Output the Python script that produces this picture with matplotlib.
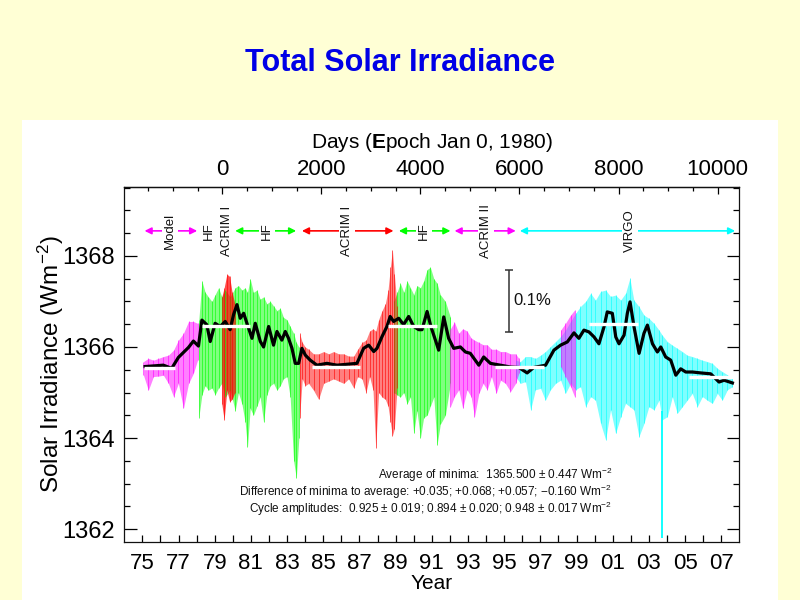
import numpy as np
import matplotlib
matplotlib.use("Agg")
import matplotlib.pyplot as plt
from matplotlib.patches import Rectangle
from matplotlib.ticker import MultipleLocator

plt.rcParams.update({
    "font.family": ["Liberation Sans", "DejaVu Sans"],
    "mathtext.fontset": "custom",
    "mathtext.rm": "Liberation Sans",
    "mathtext.bf": "Liberation Sans:bold",
    "mathtext.it": "Liberation Sans:italic",
})

MAGENTA, GREEN, RED, CYAN = "#ff00ff", "#00ff00", "#ff0000", "#00ffff"
INK = "#111111"

# ---- daily data envelopes (year, upper, lower) per instrument -------------
MODEL_YEAR = [1975.56, 1975.83, 1976.11, 1976.39, 1976.66, 1976.94, 1977.22, 1977.49,
              1977.77, 1978.05, 1978.32, 1978.55]
MODEL_HI = [1365.68, 1365.75, 1365.71, 1365.75, 1365.79, 1365.82, 1365.93, 1366.15,
            1366.30, 1366.56, 1366.56, 1366.52]
MODEL_LO = [1365.38, 1365.05, 1365.35, 1365.36, 1365.38, 1365.20, 1364.91, 1365.20,
            1364.65, 1365.20, 1365.42, 1365.71]

HF1_YEAR = [1978.62, 1978.79, 1978.97, 1979.15, 1979.34, 1979.52, 1979.71, 1979.89,
            1980.08, 1980.35, 1980.63, 1980.81, 1981.00, 1981.18, 1981.31, 1981.46,
            1981.64, 1981.83, 1982.01, 1982.20, 1982.38, 1982.57, 1982.75, 1982.94,
            1983.12, 1983.30, 1983.49, 1983.67, 1983.86, 1984.01, 1984.15]
HF1_HI = [1366.60, 1367.45, 1367.20, 1367.10, 1367.00, 1367.15, 1367.30, 1367.10,
          1367.25, 1367.10, 1367.30, 1367.35, 1367.25, 1367.30, 1367.20, 1367.50,
          1367.20, 1367.25, 1367.05, 1367.10, 1366.95, 1367.00, 1366.90, 1366.80,
          1366.85, 1366.65, 1366.60, 1366.45, 1366.30, 1366.10, 1366.00]
HF1_LO = [1364.45, 1364.95, 1365.15, 1365.05, 1365.10, 1364.95, 1365.10, 1365.20,
          1364.90, 1365.05, 1364.60, 1365.00, 1364.75, 1364.35, 1363.80, 1364.65,
          1364.50, 1364.70, 1364.90, 1364.35, 1364.95, 1365.15, 1365.20, 1365.05,
          1365.15, 1365.30, 1365.35, 1364.90, 1363.50, 1363.12, 1364.00]

ACRIM1A_YEAR = [1979.89, 1980.02, 1980.17, 1980.32, 1980.46, 1980.61]
ACRIM1A_HI = [1367.10, 1367.30, 1367.60, 1367.55, 1367.20, 1366.95]
ACRIM1A_LO = [1364.75, 1364.40, 1365.05, 1364.80, 1364.85, 1365.00]

ACRIM1B_YEAR = [1984.19, 1984.34, 1984.50, 1984.69, 1984.96, 1985.24, 1985.52, 1985.80,
                1986.07, 1986.35, 1986.63, 1986.90, 1987.18, 1987.40, 1987.64, 1987.86,
                1988.06, 1988.25, 1988.40, 1988.56, 1988.75, 1988.93, 1989.08, 1989.21,
                1989.32, 1989.43, 1989.58]
ACRIM1B_HI = [1366.30, 1366.10, 1366.00, 1365.95, 1365.85, 1365.85, 1365.90, 1365.85,
              1365.90, 1365.85, 1365.85, 1365.80, 1365.80, 1365.95, 1366.10, 1366.15,
              1366.35, 1366.40, 1366.35, 1366.60, 1366.80, 1366.95, 1367.25, 1367.75,
              1368.13, 1367.60, 1366.90]
ACRIM1B_LO = [1364.45, 1365.30, 1365.15, 1365.20, 1365.05, 1364.85, 1365.20, 1365.25,
              1365.30, 1365.25, 1365.20, 1365.30, 1365.10, 1365.35, 1365.30, 1365.00,
              1365.35, 1365.05, 1363.78, 1365.00, 1364.90, 1364.85, 1364.70, 1364.35,
              1364.05, 1364.20, 1365.10]

HF2_YEAR = [1989.39, 1989.58, 1989.76, 1989.95, 1990.13, 1990.32, 1990.50, 1990.68,
            1990.87, 1991.05, 1991.24, 1991.42, 1991.61, 1991.79, 1991.97, 1992.25,
            1992.53]
HF2_HI = [1367.00, 1367.20, 1367.40, 1367.20, 1367.45, 1367.30, 1367.15, 1367.35,
          1367.30, 1367.45, 1367.70, 1367.75, 1367.50, 1367.40, 1367.15, 1367.00,
          1366.65]
HF2_LO = [1365.00, 1364.95, 1364.90, 1365.00, 1364.75, 1364.90, 1364.10, 1364.60,
          1364.00, 1364.45, 1364.50, 1364.70, 1364.90, 1363.85, 1364.30, 1364.50,
          1365.20]

ACRIM2_YEAR = [1992.53, 1992.75, 1992.99, 1993.21, 1993.45, 1993.67, 1993.86, 1994.10,
               1994.34, 1994.56, 1994.80, 1995.06, 1995.30, 1995.57, 1995.85, 1996.13,
               1996.31]
ACRIM2_HI = [1366.40, 1366.55, 1366.30, 1366.40, 1366.35, 1366.20, 1366.15, 1366.10,
             1366.05, 1366.05, 1365.95, 1365.95, 1365.90, 1365.90, 1365.85, 1365.85,
             1365.75]
ACRIM2_LO = [1364.69, 1364.91, 1365.06, 1364.65, 1365.06, 1364.91, 1364.47, 1364.98,
             1365.20, 1365.06, 1365.35, 1364.98, 1365.27, 1365.20, 1365.02, 1365.20,
             1365.42]

ACRIM2B_YEAR = [1998.62, 1998.89, 1999.17, 1999.39]
ACRIM2B_HI = [1366.37, 1366.52, 1366.70, 1366.81]
ACRIM2B_LO = [1365.57, 1365.35, 1365.13, 1364.91]

VIRGO_YEAR = [1996.13, 1996.40, 1996.68, 1996.96, 1997.23, 1997.51, 1997.78, 1998.06,
              1998.34, 1998.62, 1998.89, 1999.17, 1999.45, 1999.72, 2000.00, 2000.28,
              2000.55, 2000.83, 2001.11, 2001.38, 2001.66, 2001.94, 2002.21, 2002.45,
              2002.67, 2002.95, 2003.23, 2003.50, 2003.78, 2004.06, 2004.24, 2004.52,
              2004.80, 2005.07, 2005.35, 2005.62, 2005.90, 2006.18, 2006.46, 2006.73,
              2007.01, 2007.29, 2007.56, 2007.84, 2008.12]
VIRGO_HI = [1365.71, 1365.68, 1365.79, 1365.79, 1365.75, 1365.82, 1365.90, 1366.01,
            1366.12, 1366.23, 1366.37, 1366.56, 1366.74, 1366.89, 1367.00, 1367.18,
            1367.03, 1367.22, 1367.25, 1367.11, 1367.14, 1367.03, 1367.18, 1367.51,
            1367.03, 1366.89, 1366.70, 1366.63, 1366.52, 1366.37, 1366.26, 1366.12,
            1366.04, 1365.97, 1365.90, 1365.82, 1365.79, 1365.75, 1365.71, 1365.68,
            1365.64, 1365.53, 1365.46, 1365.39, 1365.31]
VIRGO_LO = [1365.35, 1365.20, 1365.24, 1364.62, 1365.06, 1365.09, 1364.83, 1365.06,
            1365.20, 1365.27, 1364.98, 1365.20, 1365.06, 1365.13, 1364.69, 1364.91,
            1364.83, 1364.32, 1363.96, 1364.62, 1364.10, 1364.47, 1364.76, 1364.69,
            1364.62, 1364.03, 1364.32, 1364.69, 1364.62, 1364.83, 1364.40, 1364.47,
            1364.91, 1364.54, 1364.69, 1364.83, 1364.98, 1364.69, 1364.91, 1364.83,
            1364.76, 1364.98, 1364.83, 1365.06, 1365.13]

# isolated deep dip (Oct 2003 sunspot group)
DIP_YEAR = [2004.24, 2004.24]
DIP_TSI = [1364.60, 1361.80]

# ---- 81-day running mean ---------------------------------------------------
SMOOTH_YEAR = [1975.65, 1976.66, 1977.12, 1977.49, 1977.77, 1978.05, 1978.32, 1978.60,
               1978.79, 1979.06, 1979.25, 1979.52, 1979.80, 1980.08, 1980.35, 1980.54,
               1980.73, 1980.91, 1981.10, 1981.28, 1981.56, 1981.74, 1982.02, 1982.20,
               1982.48, 1982.75, 1982.94, 1983.21, 1983.40, 1983.58, 1983.77, 1983.95,
               1984.14, 1984.32, 1984.51, 1984.78, 1985.15, 1985.70, 1986.26, 1986.81,
               1987.36, 1987.73, 1988.01, 1988.29, 1988.47, 1988.75, 1989.02, 1989.20,
               1989.39, 1989.67, 1989.94, 1990.22, 1990.50, 1990.78, 1990.96, 1991.24,
               1991.45, 1991.70, 1991.88, 1992.16, 1992.43, 1992.71, 1993.08, 1993.36,
               1993.63, 1994.10, 1994.37, 1994.74, 1995.29, 1995.85, 1996.31, 1996.77,
               1997.14, 1997.79, 1998.25, 1998.62, 1998.99, 1999.36, 1999.63, 1999.91,
               2000.19, 2000.47, 2000.74, 2001.02, 2001.20, 2001.48, 2001.67, 2001.85,
               2002.13, 2002.31, 2002.46, 2002.68, 2002.96, 2003.23, 2003.42, 2003.70,
               2003.97, 2004.16, 2004.43, 2004.71, 2004.99, 2005.26, 2005.54, 2005.91,
               2006.37, 2006.92, 2007.38, 2007.66, 2008.12]
SMOOTH_TSI = [1365.57, 1365.60, 1365.53, 1365.77, 1365.88, 1365.99, 1366.13, 1366.02,
              1366.59, 1366.49, 1366.12, 1366.52, 1366.45, 1366.56, 1366.38, 1366.71,
              1366.93, 1366.63, 1366.74, 1366.52, 1366.19, 1366.52, 1366.12, 1366.00,
              1366.45, 1366.04, 1366.34, 1366.15, 1366.34, 1366.19, 1365.97, 1365.64,
              1365.64, 1365.97, 1365.82, 1365.71, 1365.60, 1365.64, 1365.60, 1365.62,
              1365.64, 1365.97, 1366.04, 1365.90, 1365.97, 1366.23, 1366.45, 1366.67,
              1366.56, 1366.63, 1366.49, 1366.67, 1366.45, 1366.38, 1366.38, 1366.78,
              1366.45, 1366.15, 1365.93, 1366.66, 1366.19, 1365.97, 1366.00, 1365.89,
              1365.86, 1365.60, 1365.78, 1365.64, 1365.60, 1365.56, 1365.55, 1365.43,
              1365.55, 1365.60, 1365.93, 1366.04, 1366.11, 1366.31, 1366.19, 1366.37,
              1366.33, 1366.22, 1366.07, 1366.44, 1366.77, 1366.74, 1366.22, 1366.07,
              1366.26, 1366.74, 1366.99, 1366.44, 1365.86, 1366.30, 1366.48, 1366.07,
              1365.89, 1366.00, 1365.78, 1365.71, 1365.38, 1365.52, 1365.45, 1365.45,
              1365.43, 1365.41, 1365.23, 1365.27, 1365.21]

# ---- minima / maxima statistics -------------------------------------------
MIN_AVG, MIN_STD = 1365.500, 0.447
MIN_DIFF = [0.035, 0.068, 0.057, -0.160]
MIN_START = [1975.60, 1984.85, 1995.00, 2005.70]
MIN_END = [1977.30, 1987.55, 1997.70, 2008.20]
AMP = [0.925, 0.894, 0.948]
AMP_ERR = [0.019, 0.020, 0.017]
MAX_START = [1978.80, 1989.10, 2000.20]
MAX_END = [1981.45, 1991.80, 2002.90]

# ---- instrument coverage arrows -------------------------------------------
INSTR_NAME = ["Model", "HF", "HF", "ACRIM I", "HF", "ACRIM II", "VIRGO"]
INSTR_START = [1975.62, 1978.65, 1980.63, 1984.32, 1989.68, 1992.76, 1996.37]
INSTR_END = [1978.53, 1979.60, 1984.00, 1989.38, 1992.53, 1996.14, 2008.27]
INSTR_LABEL_X = [1977.02, 1979.15, 1982.38, 1986.81, 1991.08, 1994.50, 2002.44]
INSTR_COLOR = [MAGENTA, GREEN, GREEN, RED, GREEN, MAGENTA, CYAN]
ARROW_Y = 1368.55

YEAR_TICKS = np.arange(1975.5, 2008.0, 1.0)
YEAR_LABELS = ["75", "", "77", "", "79", "", "81", "", "83", "", "85", "", "87", "",
               "89", "", "91", "", "93", "", "95", "", "97", "", "99", "", "01", "",
               "03", "", "05", "", "07"]
DAY_TICKS = [0, 2000, 4000, 6000, 8000, 10000]

fig = plt.figure(figsize=(8, 6), dpi=100)
fig.patch.set_facecolor("#ffffd5")
fig.patches.append(Rectangle((22 / 800, 0), 756 / 800, 480 / 600, transform=fig.transFigure,
                             facecolor="white", edgecolor="none", zorder=-10))

fig.text(0.5, 0.895, "Total Solar Irradiance", ha="center", va="center",
         fontsize=22, fontweight="bold", color="#0000e6")

ax = fig.add_axes([124.3 / 800, 57.7 / 600, 615 / 800, 355.6 / 600])
ax.set_zorder(2)
ax.set_facecolor("white")

# base instruments first, overlapping short records on top
segments = [
    (MODEL_YEAR, MODEL_HI, MODEL_LO, MAGENTA, 0.5),
    (HF1_YEAR, HF1_HI, HF1_LO, GREEN, 0.5),
    (HF2_YEAR, HF2_HI, HF2_LO, GREEN, 0.5),
    (VIRGO_YEAR, VIRGO_HI, VIRGO_LO, CYAN, 0.5),
    (ACRIM1A_YEAR, ACRIM1A_HI, ACRIM1A_LO, RED, 0.7),
    (ACRIM1B_YEAR, ACRIM1B_HI, ACRIM1B_LO, RED, 0.5),
    (ACRIM2_YEAR, ACRIM2_HI, ACRIM2_LO, MAGENTA, 0.5),
    (ACRIM2B_YEAR, ACRIM2B_HI, ACRIM2B_LO, MAGENTA, 0.5),
]
for yr, hi, lo, c, a in segments:
    ax.fill_between(yr, lo, hi, color=c, alpha=a, lw=0, zorder=1)
    ax.vlines(yr, lo, hi, color=c, lw=0.6, alpha=0.7, zorder=2)
dip, = ax.plot(DIP_YEAR, DIP_TSI, color=CYAN, lw=1.3, zorder=2, solid_capstyle="butt")
dip.set_clip_box(ax.bbox)

ax.plot(SMOOTH_YEAR, SMOOTH_TSI, color="black", lw=2.3, zorder=4)

min_levels = [MIN_AVG + d for d in MIN_DIFF]
max_levels = [min_levels[i] + AMP[i] for i in range(len(AMP))]
ax.hlines(min_levels, MIN_START, MIN_END, color="white", lw=2.4, zorder=5)
ax.hlines(max_levels, MAX_START, MAX_END, color="white", lw=2.4, zorder=5)

# instrument arrows
label_box = dict(boxstyle="square,pad=0.15", fc="white", ec="none")
for name, x0, x1, xl, c in zip(INSTR_NAME, INSTR_START, INSTR_END, INSTR_LABEL_X, INSTR_COLOR):
    ax.annotate("", xy=(x1, ARROW_Y), xytext=(x0, ARROW_Y),
                arrowprops=dict(arrowstyle="<|-|>", color=c, lw=1.2, mutation_scale=10,
                                shrinkA=0, shrinkB=0), zorder=6)
    ax.text(xl, ARROW_Y, name, rotation=90, ha="center", va="center", fontsize=9.5,
            color=INK, zorder=7, bbox=label_box)
ax.text(1980.17, ARROW_Y, "ACRIM I", rotation=90, ha="center", va="center", fontsize=9.5,
        color=INK, zorder=7, bbox=label_box)

# 0.1% scale bar
bar_x, bar_top = 1995.79, 1367.69
bar_h = 0.001 * 1366.0
ax.errorbar([bar_x], [bar_top - bar_h / 2], yerr=[bar_h / 2], color="#333333",
            lw=1.1, capsize=3, capthick=1.1, zorder=6)
ax.text(bar_x + 0.2, bar_top - bar_h / 2 + 0.02, "0.1%", ha="left", va="center",
        fontsize=12, color=INK)

ax.set_xlim(1974.5, 2008.5)
ax.set_ylim(1361.71, 1369.52)
ax.set_xticks(YEAR_TICKS)
ax.set_xticklabels(YEAR_LABELS)
ax.set_yticks([1362, 1364, 1366, 1368])
ax.yaxis.set_minor_locator(MultipleLocator(0.5))
ax.tick_params(axis="x", which="major", direction="in", length=5, width=0.9,
               labelsize=16, pad=8, top=False)
ax.tick_params(axis="y", which="major", direction="in", length=9, width=0.9,
               labelsize=17, pad=7, right=True)
ax.tick_params(axis="y", which="minor", direction="in", length=4.5, width=0.9, right=True)
for s in ax.spines.values():
    s.set_color(INK)
    s.set_linewidth(0.9)

sec = ax.secondary_xaxis("top", functions=(lambda y: (y - 1979.92) * 365.25,
                                           lambda d: d / 365.25 + 1979.92))
sec.set_xticks(DAY_TICKS)
sec.xaxis.set_minor_locator(MultipleLocator(500))
sec.tick_params(which="major", direction="in", length=5, width=0.9, labelsize=16, pad=5)
sec.tick_params(which="minor", direction="in", length=3, width=0.9)
sec.spines["top"].set_color(INK)
sec.spines["top"].set_linewidth(0.9)

fig.text(0.54, 0.762, r"Days ($\mathbf{E}$poch Jan 0, 1980)", ha="center", va="center",
         fontsize=15)
fig.text(0.54, 0.028, "Year", ha="center", va="center", fontsize=15)
fig.text(0.063, 0.3925, r"Solar Irradiance (Wm$^{-2}$)", ha="center", va="center",
         rotation=90, fontsize=17.5)

lines = [
    f"Average of minima:  {MIN_AVG:.3f} ± {MIN_STD:.3f} Wm$^{{-2}}$",
    "Difference of minima to average: "
    + "; ".join(f"{d:+.3f}".replace("-", "\u2212") for d in MIN_DIFF) + " Wm$^{-2}$",
    "Cycle amplitudes:  "
    + "; ".join(f"{a:.3f} ± {e:.3f}" for a, e in zip(AMP, AMP_ERR)) + " Wm$^{-2}$",
]
for i, t in enumerate(lines):
    fig.text(0.765, 0.209 - 0.0285 * i, t, ha="right", va="center", fontsize=8.5,
             color=INK, zorder=5)

fig.savefig("out.png", dpi=100, facecolor=fig.get_facecolor())
